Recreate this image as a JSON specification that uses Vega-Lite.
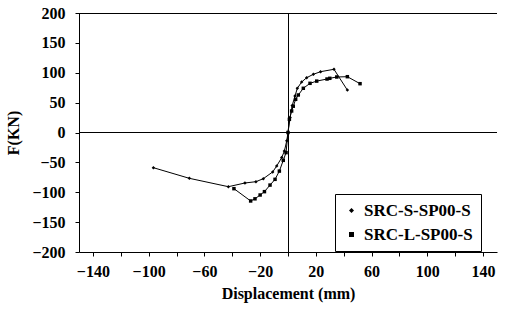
{
  "$schema": "https://vega.github.io/schema/vega-lite/v6.json",
  "width": 418,
  "height": 239,
  "autosize": {"type": "none"},
  "padding": {"left": 79, "top": 13, "right": 14, "bottom": 68},
  "background": "white",
  "config": {
    "view": {"stroke": null},
    "font": "Liberation Serif",
    "axis": {"labelFont": "Liberation Serif", "titleFont": "Liberation Serif", "labelFontWeight": "bold", "titleFontWeight": "bold", "labelFontSize": 16, "titleFontSize": 16, "labelColor": "black", "titleColor": "black", "domainColor": "black", "tickColor": "black", "grid": false, "tickSize": 4},
    "axisX": {"labelPadding": 7, "titlePadding": 6},
    "axisY": {"tickCount": 9, "labelPadding": 10, "titlePadding": 10}
  },
  "data": {"values": [
      {"series": "SRC-S-SP00-S", "order": 1, "d": -96.6, "f": -58.9},
      {"series": "SRC-S-SP00-S", "order": 2, "d": -70.8, "f": -76.7},
      {"series": "SRC-S-SP00-S", "order": 3, "d": -42.8, "f": -90.7},
      {"series": "SRC-S-SP00-S", "order": 4, "d": -30.9, "f": -84.5},
      {"series": "SRC-S-SP00-S", "order": 5, "d": -23.0, "f": -82.3},
      {"series": "SRC-S-SP00-S", "order": 6, "d": -17.7, "f": -77.3},
      {"series": "SRC-S-SP00-S", "order": 7, "d": -11.0, "f": -66.0},
      {"series": "SRC-S-SP00-S", "order": 8, "d": -8.1, "f": -56.0},
      {"series": "SRC-S-SP00-S", "order": 9, "d": -4.5, "f": -42.0},
      {"series": "SRC-S-SP00-S", "order": 10, "d": -2.6, "f": -31.0},
      {"series": "SRC-S-SP00-S", "order": 11, "d": -0.9, "f": -14.0},
      {"series": "SRC-S-SP00-S", "order": 12, "d": 0, "f": 0},
      {"series": "SRC-S-SP00-S", "order": 13, "d": 1.5, "f": 25.0},
      {"series": "SRC-S-SP00-S", "order": 14, "d": 3.0, "f": 45.0},
      {"series": "SRC-S-SP00-S", "order": 15, "d": 5.0, "f": 61.0},
      {"series": "SRC-S-SP00-S", "order": 16, "d": 6.7, "f": 74.0},
      {"series": "SRC-S-SP00-S", "order": 17, "d": 9.8, "f": 84.5},
      {"series": "SRC-S-SP00-S", "order": 18, "d": 13.4, "f": 91.7},
      {"series": "SRC-S-SP00-S", "order": 19, "d": 18.2, "f": 97.4},
      {"series": "SRC-S-SP00-S", "order": 20, "d": 23.4, "f": 101.8},
      {"series": "SRC-S-SP00-S", "order": 21, "d": 33.0, "f": 105.8},
      {"series": "SRC-S-SP00-S", "order": 22, "d": 42.6, "f": 71.0},
      {"series": "SRC-L-SP00-S", "order": 1, "d": -38.8, "f": -94.0},
      {"series": "SRC-L-SP00-S", "order": 2, "d": -26.8, "f": -114.6},
      {"series": "SRC-L-SP00-S", "order": 3, "d": -23.7, "f": -111.0},
      {"series": "SRC-L-SP00-S", "order": 4, "d": -20.0, "f": -104.6},
      {"series": "SRC-L-SP00-S", "order": 5, "d": -16.9, "f": -99.0},
      {"series": "SRC-L-SP00-S", "order": 6, "d": -12.9, "f": -88.0},
      {"series": "SRC-L-SP00-S", "order": 7, "d": -9.3, "f": -78.4},
      {"series": "SRC-L-SP00-S", "order": 8, "d": -6.2, "f": -64.6},
      {"series": "SRC-L-SP00-S", "order": 9, "d": -3.4, "f": -46.6},
      {"series": "SRC-L-SP00-S", "order": 10, "d": -1.4, "f": -33.7},
      {"series": "SRC-L-SP00-S", "order": 11, "d": 0, "f": 0},
      {"series": "SRC-L-SP00-S", "order": 12, "d": 1.0, "f": 22.0},
      {"series": "SRC-L-SP00-S", "order": 13, "d": 2.6, "f": 36.0},
      {"series": "SRC-L-SP00-S", "order": 14, "d": 3.8, "f": 44.0},
      {"series": "SRC-L-SP00-S", "order": 15, "d": 5.5, "f": 55.5},
      {"series": "SRC-L-SP00-S", "order": 16, "d": 7.4, "f": 62.8},
      {"series": "SRC-L-SP00-S", "order": 17, "d": 11.0, "f": 74.0},
      {"series": "SRC-L-SP00-S", "order": 18, "d": 15.8, "f": 82.3},
      {"series": "SRC-L-SP00-S", "order": 19, "d": 20.6, "f": 86.0},
      {"series": "SRC-L-SP00-S", "order": 20, "d": 28.0, "f": 89.5},
      {"series": "SRC-L-SP00-S", "order": 21, "d": 30.0, "f": 90.7},
      {"series": "SRC-L-SP00-S", "order": 22, "d": 35.0, "f": 92.9},
      {"series": "SRC-L-SP00-S", "order": 23, "d": 42.6, "f": 93.4},
      {"series": "SRC-L-SP00-S", "order": 24, "d": 51.7, "f": 81.7}
  ]},
  "layer": [
    {
      "mark": {"type": "line", "color": "black", "strokeWidth": 1},
      "encoding": {
        "x": {"field": "d", "type": "quantitative", "scale": {"domain": [-150, 150], "nice": false}, "axis": {"title": "Displacement (mm)"}},
        "y": {"field": "f", "type": "quantitative", "scale": {"domain": [-200, 200], "nice": false}, "axis": {"title": "F(KN)", "tickCount": 9}},
        "detail": {"field": "series"},
        "order": {"field": "order", "type": "quantitative"}
      }
    },
    {
      "mark": {"type": "point", "filled": true, "color": "black", "size": 12, "opacity": 1},
      "encoding": {
        "x": {"field": "d", "type": "quantitative"},
        "y": {"field": "f", "type": "quantitative"},
        "shape": {
          "field": "series",
          "type": "nominal",
          "sort": ["SRC-S-SP00-S", "SRC-L-SP00-S"],
          "scale": {"domain": ["SRC-S-SP00-S", "SRC-L-SP00-S"], "range": ["diamond", "square"]},
          "legend": {
            "title": null,
            "orient": "none",
            "legendX": 256,
            "legendY": 181,
            "padding": 8,
            "strokeColor": "black",
            "fillColor": "white",
            "labelFont": "Liberation Serif",
            "labelFontWeight": "bold",
            "labelFontSize": 17,
            "labelColor": "black",
            "symbolFillColor": "black",
            "symbolStrokeColor": "black",
            "symbolSize": 25,
            "rowPadding": 6,
            "labelOffset": 4
          }
        }
      }
    },
    {
      "mark": {"type": "rule", "color": "black", "strokeWidth": 1},
      "encoding": {"y": {"datum": 0, "type": "quantitative"}}
    },
    {
      "mark": {"type": "rule", "color": "black", "strokeWidth": 1, "xOffset": 0.5},
      "encoding": {"x": {"datum": 0, "type": "quantitative"}}
    },
    {
      "mark": {"type": "rule", "color": "black", "strokeWidth": 1, "yOffset": 0.5},
      "encoding": {"y": {"datum": 200, "type": "quantitative"}}
    }
  ]
}
